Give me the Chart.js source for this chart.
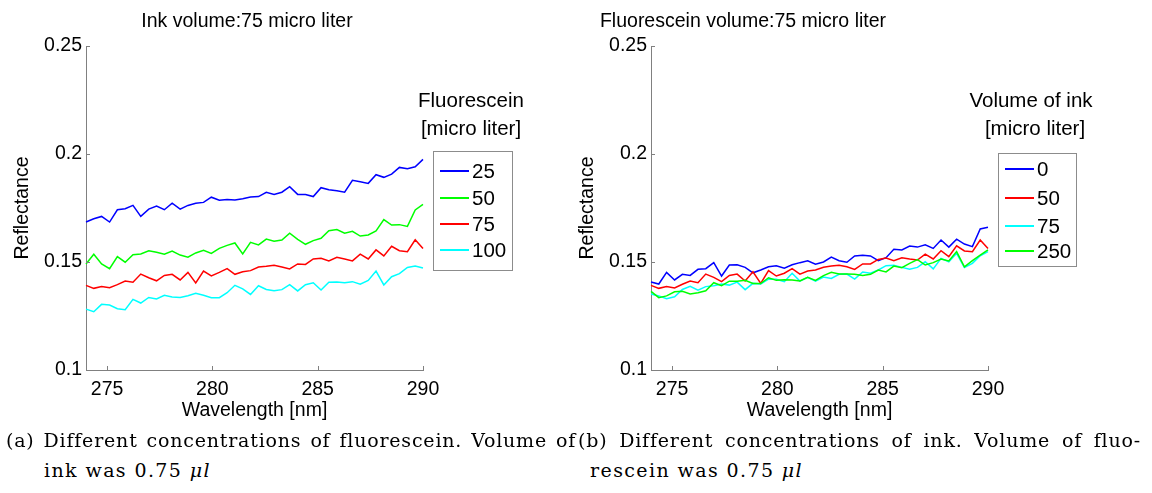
<!DOCTYPE html>
<html>
<head>
<meta charset="utf-8">
<script src="https://cdn.jsdelivr.net/npm/chart.js@4.4.1/dist/chart.umd.min.js"></script>
<style>
  body { margin: 0; background: #fff; width: 1152px; height: 493px; overflow: hidden; position: relative;
         font-family: "Liberation Sans", Arial, sans-serif; color: #000; }
  canvas { position: absolute; top: 0; }
  .lbl { position: absolute; font-size: 19.5px; line-height: 20px; white-space: nowrap; transform: translate(-50%, -50%); }
  .lbl.leg { font-size: 20.5px; }
  .legend { position: absolute; border: 1px solid #8c8c8c; background: #fff; box-sizing: border-box; }
  .legend .row { position: absolute; left: 0; height: 22px; line-height: 22px; font-size: 20.5px; white-space: nowrap; transform: translateY(-50%); }
  .legend .swatch { position: absolute; top: 10px; width: 29px; height: 1.5px; }
  .legend .txt { position: absolute; }
  .cap { position: absolute; font-family: "DejaVu Serif", serif; font-size: 19px; line-height: 20px;
         letter-spacing: 1.4px; white-space: nowrap; }
  .cap.fill { letter-spacing: 0.8px; }
</style>
</head>
<body>

<canvas id="chartA" width="560" height="430" style="left:0px"></canvas>
<canvas id="chartB" width="560" height="430" style="left:565px"></canvas>

<div class="lbl" style="left:247px;top:20px">Ink volume:75 micro liter</div>
<div class="lbl" style="left:743px;top:20px">Fluorescein volume:75 micro liter</div>

<div class="lbl leg" style="left:471px;top:100px">Fluorescein</div>
<div class="lbl leg" style="left:471px;top:128px">[micro liter]</div>
<div class="lbl leg" style="left:1031px;top:100px">Volume of ink</div>
<div class="lbl leg" style="left:1035px;top:128px">[micro liter]</div>

<div class="legend" id="legendA" style="left:433px;top:151px;width:80px;height:120px"></div>
<div class="legend" id="legendB" style="left:998px;top:153px;width:79px;height:114px"></div>

<div class="cap fill" data-w="570" style="left:6px;top:430px">(a) Different concentrations of fluorescein. Volume of</div>
<div class="cap" style="left:44px;top:460px">ink was 0.75 <i>μl</i></div>
<div class="cap fill" data-w="563" style="left:578px;top:430px">(b) Different concentrations of ink. Volume of fluo-</div>
<div class="cap" style="left:590px;top:460px">rescein was 0.75 <i>μl</i></div>

<script>
// wavelength axis [nm]
const wavelengths = [
  274.00, 274.37, 274.74, 275.12, 275.49, 275.86, 276.23, 276.60, 276.98, 277.35,
  277.72, 278.09, 278.47, 278.84, 279.21, 279.58, 279.95, 280.33, 280.70, 281.07,
  281.44, 281.81, 282.19, 282.56, 282.93, 283.30, 283.67, 284.05, 284.42, 284.79,
  285.16, 285.53, 285.91, 286.28, 286.65, 287.02, 287.40, 287.77, 288.14, 288.51,
  288.88, 289.26, 289.63, 290.00
];
const xTicks = [275, 280, 285, 290];
const yTicks = [0.1, 0.15, 0.2, 0.25];

// (a) ink volume 75, varying fluorescein
const fluorLabels = ['25', '50', '75', '100'];
const fluor25 = [
  0.1685, 0.1700, 0.1711, 0.1685, 0.1742, 0.1747, 0.1762, 0.1711, 0.1745, 0.1759,
  0.1742, 0.1772, 0.1745, 0.1762, 0.1772, 0.1776, 0.1800, 0.1786, 0.1789, 0.1787,
  0.1793, 0.1801, 0.1803, 0.1823, 0.1813, 0.1823, 0.1849, 0.1813, 0.1812, 0.1803,
  0.1844, 0.1835, 0.1830, 0.1823, 0.1878, 0.1872, 0.1864, 0.1904, 0.1892, 0.1907,
  0.1938, 0.1932, 0.1941, 0.1975
];
const fluor50 = [
  0.1491, 0.1536, 0.1491, 0.1469, 0.1525, 0.1499, 0.1534, 0.1537, 0.1552, 0.1545,
  0.1536, 0.1551, 0.1532, 0.1522, 0.1542, 0.1554, 0.1540, 0.1563, 0.1577, 0.1588,
  0.1537, 0.1591, 0.1579, 0.1606, 0.1596, 0.1602, 0.1633, 0.1605, 0.1582, 0.1599,
  0.1610, 0.1645, 0.1650, 0.1633, 0.1642, 0.1620, 0.1625, 0.1644, 0.1696, 0.1671,
  0.1673, 0.1665, 0.1741, 0.1767
];
const fluor75 = [
  0.1392, 0.1378, 0.1387, 0.1381, 0.1395, 0.1412, 0.1406, 0.1444, 0.1427, 0.1413,
  0.1438, 0.1443, 0.1417, 0.1452, 0.1403, 0.1458, 0.1436, 0.1452, 0.1469, 0.1443,
  0.1455, 0.1460, 0.1477, 0.1480, 0.1485, 0.1477, 0.1468, 0.1491, 0.1489, 0.1514,
  0.1517, 0.1505, 0.1522, 0.1514, 0.1505, 0.1536, 0.1514, 0.1556, 0.1528, 0.1573,
  0.1552, 0.1548, 0.1603, 0.1563
];
const fluor100 = [
  0.1282, 0.1270, 0.1304, 0.1301, 0.1284, 0.1279, 0.1327, 0.1310, 0.1336, 0.1329,
  0.1346, 0.1338, 0.1336, 0.1344, 0.1355, 0.1346, 0.1335, 0.1335, 0.1358, 0.1392,
  0.1376, 0.1350, 0.1390, 0.1373, 0.1367, 0.1372, 0.1395, 0.1366, 0.1395, 0.1404,
  0.1370, 0.1406, 0.1407, 0.1404, 0.1409, 0.1397, 0.1415, 0.1458, 0.1394, 0.1432,
  0.1446, 0.1475, 0.1481, 0.1472
];

// (b) fluorescein volume 75, varying ink
const inkLabels = ['0', '50', '75', '250'];
const ink0 = [
  0.1407, 0.1398, 0.1452, 0.1417, 0.1443, 0.1438, 0.1466, 0.1469, 0.1497, 0.1435,
  0.1486, 0.1487, 0.1475, 0.1450, 0.1463, 0.1478, 0.1483, 0.1471, 0.1487, 0.1497,
  0.1506, 0.1490, 0.1500, 0.1523, 0.1506, 0.1499, 0.1528, 0.1531, 0.1528, 0.1506,
  0.1520, 0.1559, 0.1556, 0.1574, 0.1569, 0.1580, 0.1563, 0.1602, 0.1569, 0.1606,
  0.1583, 0.1571, 0.1653, 0.1661
];
const ink50 = [
  0.1392, 0.1378, 0.1386, 0.1380, 0.1397, 0.1412, 0.1404, 0.1444, 0.1429, 0.1409,
  0.1438, 0.1444, 0.1412, 0.1455, 0.1401, 0.1460, 0.1435, 0.1448, 0.1469, 0.1444,
  0.1458, 0.1463, 0.1476, 0.1481, 0.1485, 0.1478, 0.1466, 0.1491, 0.1491, 0.1512,
  0.1518, 0.1506, 0.1520, 0.1514, 0.1509, 0.1536, 0.1514, 0.1552, 0.1525, 0.1575,
  0.1551, 0.1548, 0.1602, 0.1562
];
const ink75 = [
  0.1352, 0.1343, 0.1330, 0.1339, 0.1373, 0.1387, 0.1370, 0.1386, 0.1390, 0.1398,
  0.1393, 0.1407, 0.1372, 0.1401, 0.1398, 0.1421, 0.1420, 0.1409, 0.1448, 0.1412,
  0.1429, 0.1411, 0.1430, 0.1424, 0.1443, 0.1444, 0.1421, 0.1454, 0.1448, 0.1463,
  0.1483, 0.1485, 0.1475, 0.1466, 0.1475, 0.1501, 0.1468, 0.1517, 0.1501, 0.1540,
  0.1475, 0.1494, 0.1529, 0.1548
];
const ink250 = [
  0.1364, 0.1335, 0.1343, 0.1362, 0.1364, 0.1352, 0.1358, 0.1367, 0.1404, 0.1390,
  0.1411, 0.1411, 0.1415, 0.1401, 0.1400, 0.1427, 0.1415, 0.1418, 0.1417, 0.1412,
  0.1429, 0.1415, 0.1437, 0.1452, 0.1444, 0.1444, 0.1443, 0.1437, 0.1443, 0.1463,
  0.1454, 0.1481, 0.1474, 0.1494, 0.1511, 0.1486, 0.1497, 0.1514, 0.1505, 0.1548,
  0.1478, 0.1506, 0.1532, 0.1556
];

const BLUE = '#0000ff', GREEN = '#00ff00', RED = '#ff0000', CYAN = '#00ffff';
const axisGray = '#808080';
const font = { family: '"Liberation Sans", Arial, sans-serif', size: 19.5 };

// matlab style: small ticks pointing into the axes
const inwardTicks = {
  id: 'inwardTicks',
  afterDraw(chart) {
    const { ctx, chartArea: a, scales: { x, y } } = chart;
    ctx.save();
    ctx.strokeStyle = axisGray;
    ctx.lineWidth = 1;
    ctx.beginPath();
    x.ticks.forEach(t => {
      const px = Math.round(x.getPixelForValue(t.value)) + 0.5;
      ctx.moveTo(px, a.bottom);
      ctx.lineTo(px, a.bottom - 4);
    });
    y.ticks.forEach(t => {
      const py = Math.round(y.getPixelForValue(t.value)) + 0.5;
      ctx.moveTo(a.left, py);
      ctx.lineTo(a.left + 4, py);
    });
    ctx.stroke();
    ctx.restore();
  }
};

function makeDatasets(labels, series, colors) {
  return series.map((vals, i) => ({
    label: labels[i],
    data: vals.map((v, j) => ({ x: wavelengths[j], y: v })),
    borderColor: colors[i],
    borderWidth: 1.5,
    pointRadius: 0,
    tension: 0,
    fill: false,
    clip: false,
    order: series.length - i
  }));
}

function makeChart(id, datasets) {
  return new Chart(document.getElementById(id), {
    type: 'line',
    data: { datasets },
    plugins: [inwardTicks],
    options: {
      responsive: false,
      animation: false,
      devicePixelRatio: 1,
      layout: { padding: { left: 0, top: 46, right: 137, bottom: 0 } },
      plugins: { legend: { display: false }, tooltip: { enabled: false } },
      scales: {
        x: {
          type: 'linear', min: 274, max: 290,
          afterBuildTicks: s => { s.ticks = xTicks.map(v => ({ value: v })); },
          afterFit: s => { s.height = 60; },
          grid: { display: false, drawTicks: false },
          border: { display: true, color: axisGray, width: 1 },
          ticks: { color: '#000', font, padding: 8, maxRotation: 0, autoSkip: false },
          title: { display: true, text: 'Wavelength [nm]', color: '#000', font, padding: { top: 0, bottom: 8 } }
        },
        y: {
          min: 0.1, max: 0.25,
          afterBuildTicks: s => { s.ticks = yTicks.map(v => ({ value: v })); },
          afterFit: s => { s.width = 86; },
          grid: { display: false, drawTicks: false },
          border: { display: true, color: axisGray, width: 1 },
          ticks: { color: '#000', font, padding: 4, callback: v => String(v) },
          title: { display: true, text: 'Reflectance', color: '#000', font, padding: { top: 11, bottom: 0 } }
        }
      }
    }
  });
}

function buildLegend(id, labels, colors, rowTops) {
  const box = document.getElementById(id);
  labels.forEach((lab, i) => {
    const row = document.createElement('div');
    row.className = 'row';
    row.style.top = rowTops[i] + 'px';
    row.innerHTML = '<span class="swatch" style="left:6px;background:' + colors[i] + '"></span>' +
                    '<span class="txt" style="left:38px">' + lab + '</span>';
    box.appendChild(row);
  });
}

// stretch the first caption lines to the full justified width, like LaTeX does
document.querySelectorAll('.cap.fill').forEach(el => {
  const target = +el.dataset.w;
  const spaces = (el.textContent.match(/ /g) || []).length;
  const natural = el.getBoundingClientRect().width;
  el.style.wordSpacing = ((target - natural) / spaces) + 'px';
});

const colorsA = [BLUE, GREEN, RED, CYAN];
const colorsB = [BLUE, RED, CYAN, GREEN];
makeChart('chartA', makeDatasets(fluorLabels, [fluor25, fluor50, fluor75, fluor100], colorsA));
makeChart('chartB', makeDatasets(inkLabels, [ink0, ink50, ink75, ink250], colorsB));
buildLegend('legendA', fluorLabels, colorsA, [19, 46, 72, 98]);
buildLegend('legendB', inkLabels, colorsB, [15, 44, 72, 97]);
</script>
</body>
</html>
